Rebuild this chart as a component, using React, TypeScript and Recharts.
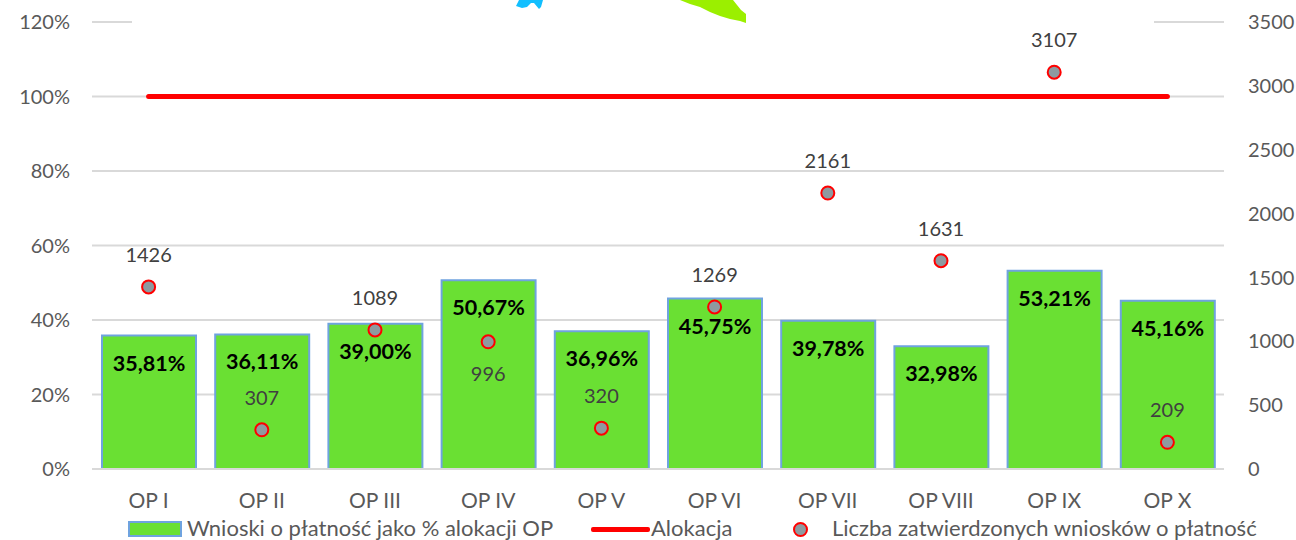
import {
  ComposedChart,
  Bar,
  Line,
  XAxis,
  YAxis,
  CartesianGrid,
  Legend,
  LabelList,
} from "recharts";

const categories = ["OP I", "OP II", "OP III", "OP IV", "OP V", "OP VI", "OP VII", "OP VIII", "OP IX", "OP X"];
const percentOfAllocation = [35.81, 36.11, 39.0, 50.67, 36.96, 45.75, 39.78, 32.98, 53.21, 45.16];
const allocation = [100, 100, 100, 100, 100, 100, 100, 100, 100, 100];
const approvedClaims = [1426, 307, 1089, 996, 320, 1269, 2161, 1631, 3107, 209];
const claimsLabelBelow = [false, false, false, true, false, false, false, false, false, false];
const percentTicks = [0, 20, 40, 60, 80, 100, 120];
const claimTicks = [0, 500, 1000, 1500, 2000, 2500, 3000, 3500];

const data = categories.map((name, i) => ({
  name,
  percent: percentOfAllocation[i],
  allocation: allocation[i],
  claims: approvedClaims[i],
}));

const FONT = "Lato, sans-serif";
const TEXT = "#595959";
const tickStyle = { fontFamily: FONT, fontSize: 20, fill: TEXT };

const PercentLabel = ({ x, y, width, value }: any) => (
  <text
    x={x + width / 2}
    y={y + 27}
    textAnchor="middle"
    dominantBaseline="central"
    fontFamily={FONT}
    fontSize={21.5}
    fontWeight={700}
    fill="#000"
  >
    {value.toFixed(2).replace(".", ",") + "%"}
  </text>
);

const ClaimsLabel = ({ x, y, value, index }: any) => (
  <text
    x={x}
    y={claimsLabelBelow[index] ? y + 31 : y - 33}
    textAnchor="middle"
    dominantBaseline="central"
    fontFamily={FONT}
    fontSize={20}
    fill="#404040"
  >
    {value}
  </text>
);

const legendText = { position: "absolute", top: 8, fontFamily: FONT, fontSize: 22, color: TEXT, whiteSpace: "nowrap", lineHeight: "20px" } as const;

const ChartLegend = () => (
  <div style={{ position: "relative", width: 1296, height: 30 }}>
    <div style={{ position: "absolute", left: 128, top: 11, width: 50, height: 12, background: "#6AE033", border: "2px solid #6FA3DF" }} />
    <span style={{ ...legendText, left: 187 }}>Wnioski o płatność jako % alokacji OP</span>
    <div style={{ position: "absolute", left: 591, top: 17, width: 59, height: 5, background: "#FF0000", borderRadius: 2 }} />
    <span style={{ ...legendText, left: 651 }}>Alokacja</span>
    <div style={{ position: "absolute", left: 793, top: 12, width: 11, height: 11, borderRadius: "50%", background: "#8E9AA0", border: "2px solid #FF0000" }} />
    <span style={{ ...legendText, left: 832 }}>Liczba zatwierdzonych wniosków o płatność</span>
  </div>
);

export default function App() {
  return (
    <div style={{ position: "absolute", left: 0, top: 0, width: 1296, height: 540, background: "#fff" }}>
      <ComposedChart
        width={1296}
        height={540}
        data={data}
        margin={{ top: 22, right: 0, bottom: 0, left: 0 }}
      >
        <CartesianGrid yAxisId="left" vertical={false} stroke="#D9D9D9" strokeWidth={2} />
        <XAxis
          dataKey="name"
          height={41}
          axisLine={{ stroke: "#D9D9D9", strokeWidth: 2 }}
          tickLine={false}
          tickSize={0}
          tickMargin={24}
          tick={{ ...tickStyle, fontSize: 21 }}
          interval={0}
        />
        <YAxis
          yAxisId="left"
          width={92}
          domain={[0, 120]}
          ticks={percentTicks}
          tickFormatter={(v: number) => v + "%"}
          axisLine={false}
          tickLine={false}
          tickSize={0}
          tickMargin={22}
          tick={tickStyle}
        />
        <YAxis
          yAxisId="right"
          orientation="right"
          width={72}
          domain={[0, 3500]}
          ticks={claimTicks}
          axisLine={false}
          tickLine={false}
          tickSize={0}
          tickMargin={24}
          tick={tickStyle}
        />
        <Legend verticalAlign="bottom" content={<ChartLegend />} wrapperStyle={{ left: 0, bottom: 0, width: 1296, height: 30 }} />
        <Bar
          yAxisId="left"
          dataKey="percent"
          barSize={94}
          fill="#6AE033"
          stroke="#6FA3DF"
          strokeWidth={2}
          isAnimationActive={false}
        >
          <LabelList dataKey="percent" content={<PercentLabel />} />
        </Bar>
        <Line
          yAxisId="left"
          dataKey="allocation"
          stroke="#FF0000"
          strokeWidth={5}
          strokeLinecap="round"
          dot={false}
          isAnimationActive={false}
        />
        <Line
          yAxisId="right"
          dataKey="claims"
          stroke="none"
          dot={{ r: 6.5, fill: "#8E9AA0", stroke: "#FF0000", strokeWidth: 2, fillOpacity: 1 }}
          isAnimationActive={false}
        >
          <LabelList dataKey="claims" content={<ClaimsLabel />} />
        </Line>
      </ComposedChart>
      {/* map fragment that sits over the top of the chart */}
      <svg width={1296} height={28} style={{ position: "absolute", left: 0, top: 0 }}>
        <rect x={132} y={0} width={1022} height={27} fill="#fff" />
        <path d="M519 0 L516 6 L522 8 L527 7 L531 3 L534 3 L539 9 L541 7 L543 0 Z" fill="#12BFFF" />
        <path d="M680 0 L690 4 L700 7 L710 12 L720 16 L730 19 L740 21 L746 23 L746 14 L741 10 L737 5 L733 0 Z" fill="#9BEF00" />
      </svg>
    </div>
  );
}
